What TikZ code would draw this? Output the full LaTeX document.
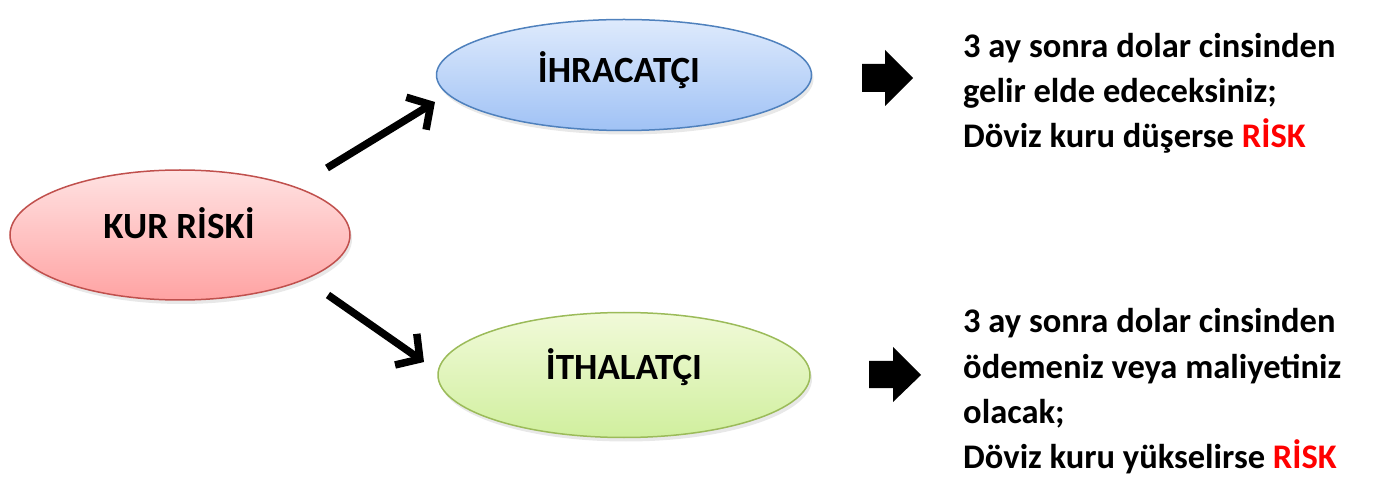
\documentclass[tikz,border=0pt]{standalone}
\usepackage{fontspec}
\setmainfont{Carlito}
\usetikzlibrary{shapes.geometric,arrows.meta,shadows}
\definecolor{redtop}{RGB}{255,226,226}
\definecolor{redbot}{RGB}{255,163,163}
\definecolor{redline}{RGB}{192,80,77}
\definecolor{bluetop}{RGB}{222,234,252}
\definecolor{bluebot}{RGB}{160,194,245}
\definecolor{blueline}{RGB}{79,129,189}
\definecolor{greentop}{RGB}{241,250,217}
\definecolor{greenbot}{RGB}{208,239,158}
\definecolor{greenline}{RGB}{155,187,89}
\definecolor{riskred}{RGB}{255,0,0}
\tikzset{
  oval/.style={ellipse, inner sep=0pt, line width=1.5pt,
    drop shadow={opacity=0.18, shadow xshift=2pt, shadow yshift=-4pt}},
  ovallabel/.style={anchor=base, inner sep=0pt, font=\fontsize{37}{42}\selectfont\bfseries},
  conn/.style={line width=7.5pt, -{Straight Barb[length=17pt,width=38pt,line width=7.5pt]}},
  blockarrow/.style={fill=black},
  txt/.style={anchor=base west, inner sep=0pt, font=\fontsize{34.5}{45}\selectfont\bfseries}
}
\begin{document}
\begin{tikzpicture}[x=1pt,y=-1pt]
\useasboundingbox (0,0) rectangle (1382,478);
\node[oval, draw=redline, top color=redtop, bottom color=redbot,
  minimum width=340pt, minimum height=130pt] (kur) at (180,235) {};
\node[oval, draw=blueline, top color=bluetop, bottom color=bluebot,
  minimum width=375pt, minimum height=111pt] (ihr) at (624,75) {};
\node[oval, draw=greenline, top color=greentop, bottom color=greenbot,
  minimum width=372pt, minimum height=125pt] (ith) at (624,375) {};
\node[ovallabel] (kurl) at (179,239) {KUR RİSKİ};
\node[ovallabel] (ihrl) at (619,83) {İHRACATÇI};
\node[ovallabel] (ithl) at (624,380) {İTHALATÇI};
\coordinate (a1s) at (327,168);
\coordinate (a1e) at (435,102);
\coordinate (a2s) at (328,295);
\coordinate (a2e) at (424,362);
\draw[conn] (a1s) -- (a1e);
\draw[conn] (a2s) -- (a2e);
% block arrows
\fill[blockarrow] (862,64) -- (885,64) -- (885,50) -- (913,78) -- (885,106) -- (885,92) -- (862,92) -- cycle;
\fill[blockarrow] (869,361) -- (893,361) -- (893,347) -- (921,375) -- (893,402) -- (893,388) -- (869,388) -- cycle;
% texts
\node[txt] (t1a) at (963,58) {3 ay sonra dolar cinsinden};
\node[txt] (t1b) at (963,103) {gelir elde edeceksiniz;};
\node[txt] (t1c) at (963,148) {Döviz kuru düşerse \textcolor{riskred}{RİSK}};
\node[txt] (t2a) at (963,333) {3 ay sonra dolar cinsinden};
\node[txt] (t2b) at (963,378) {ödemeniz veya maliyetiniz};
\node[txt] (t2c) at (963,423) {olacak;};
\node[txt] (t2d) at (963,468) {Döviz kuru yükselirse \textcolor{riskred}{RİSK}};
\end{tikzpicture}
\end{document}
